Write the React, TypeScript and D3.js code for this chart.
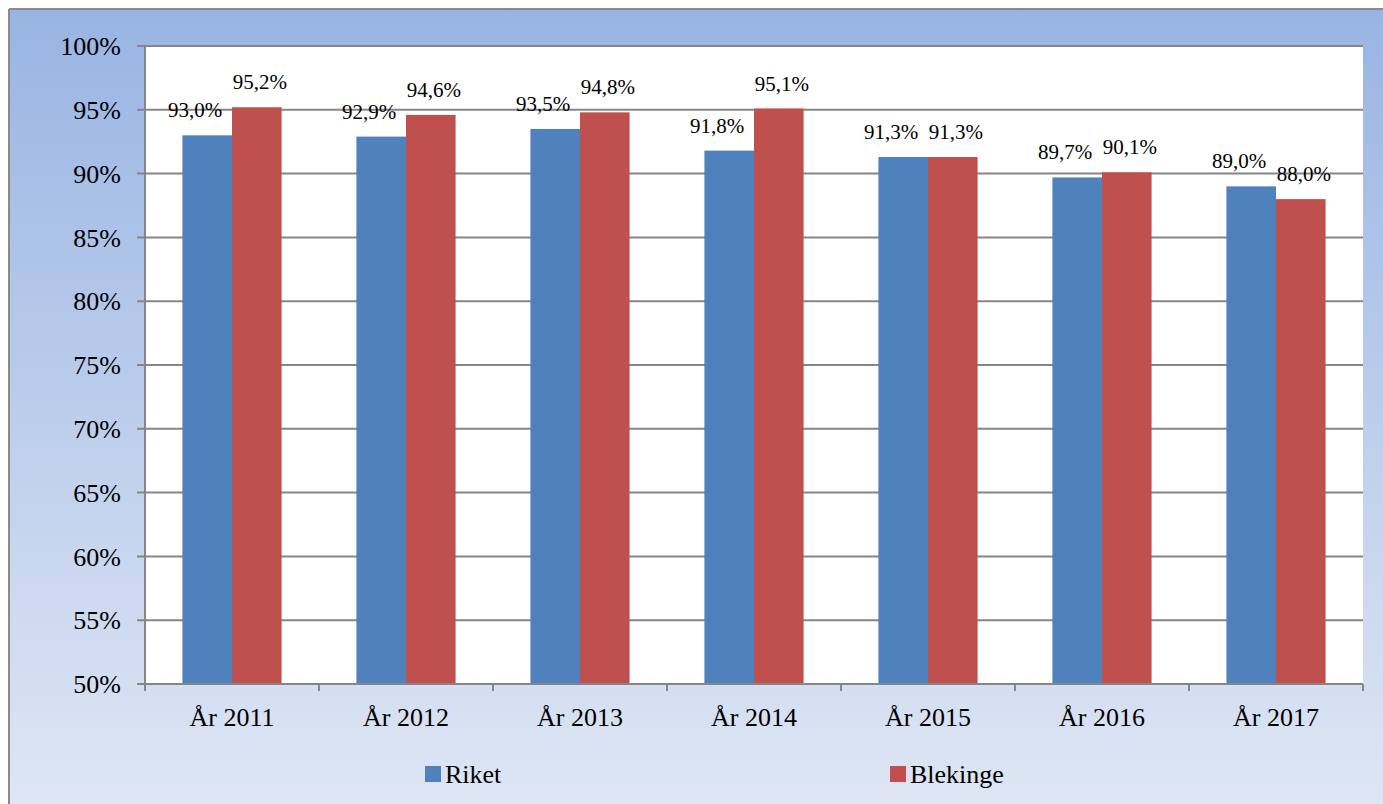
import React from "react";
import * as d3 from "d3";

const categories = ["År 2011", "År 2012", "År 2013", "År 2014", "År 2015", "År 2016", "År 2017"];
const riket = [93.0, 92.9, 93.5, 91.8, 91.3, 89.7, 89.0];
const blekinge = [95.2, 94.6, 94.8, 95.1, 91.3, 90.1, 88.0];
const seriesNames = ["Riket", "Blekinge"];
const yTicks = [50, 55, 60, 65, 70, 75, 80, 85, 90, 95, 100];

const W = 1383;
const H = 804;
const plot = { left: 145, right: 1363, top: 46, bottom: 684 };
const colors = ["#4F81BD", "#C0504D"];
const FF = "'Liberation Serif', Tinos, 'Times New Roman', Times, FreeSerif";

const fmt = (v: number) => v.toFixed(1).replace(".", ",") + "%";

export default function App() {
  const x = d3.scaleBand<string>().domain(categories).range([plot.left, plot.right]).paddingInner(0.43).paddingOuter(0.215);
  const band = d3.scaleBand<string>().domain(categories).range([plot.left, plot.right]);
  const y = d3.scaleLinear().domain([50, 100]).range([plot.bottom, plot.top]);
  const bw = x.bandwidth() / 2;
  const series = [riket, blekinge];
  const labelDx = [-12, 3];

  return (
    <svg width={W} height={H} style={{ display: "block", position: "absolute", left: 0, top: 0 }}>
      <defs>
        <linearGradient id="bg" x1="0" y1="0" x2="0" y2="1">
          <stop offset="0" stopColor="#99B4E3" />
          <stop offset="1" stopColor="#DEE6F4" />
        </linearGradient>
      </defs>
      <rect x={0} y={0} width={W} height={H} fill="#fff" />
      <rect x={9} y={9} width={W - 9} height={H - 9} fill="url(#bg)" />
      <line x1={9} x2={W} y1={9} y2={9} stroke="#8a8a8a" strokeWidth={2} />
      <line x1={9} x2={9} y1={9} y2={H} stroke="#8a8a8a" strokeWidth={2} />
      <rect x={plot.left} y={plot.top} width={plot.right - plot.left} height={plot.bottom - plot.top} fill="#fff" />
      <g fontFamily={FF} fill="#000">
        {yTicks.map((t) => (
          <g key={t}>
            <line x1={plot.left - 8} x2={plot.right} y1={y(t)} y2={y(t)} stroke="#868686" strokeWidth={2} />
            <text fontFamily={FF} x={plot.left - 24} y={y(t)} dy="0.35em" textAnchor="end" fontSize={26}>
              {t}%
            </text>
          </g>
        ))}
        {series.map((vals, si) =>
          vals.map((v, i) => {
            const bx = (x(categories[i]) as number) + si * bw;
            return (
              <g key={`${si}-${i}`}>
                <rect x={bx} y={y(v)} width={bw} height={plot.bottom - y(v)} fill={colors[si]} />
                <text fontFamily={FF} x={bx + bw / 2 + labelDx[si]} y={y(v) - 18} textAnchor="middle" fontSize={21}>
                  {fmt(v)}
                </text>
              </g>
            );
          })
        )}
        <line x1={plot.left} x2={plot.left} y1={plot.top} y2={plot.bottom} stroke="#868686" strokeWidth={2} />
        <line x1={plot.left} x2={plot.right} y1={plot.bottom} y2={plot.bottom} stroke="#868686" strokeWidth={2} />
        {[...categories.map((c) => band(c) as number), plot.right].map((bx, i) => (
          <line key={i} x1={bx} x2={bx} y1={plot.bottom} y2={plot.bottom + 7} stroke="#868686" strokeWidth={2} />
        ))}
        {categories.map((c) => (
          <text fontFamily={FF} key={c} x={(band(c) as number) + band.bandwidth() / 2} y={726} textAnchor="middle" fontSize={26}>
            {c}
          </text>
        ))}
        {seriesNames.map((n, i) => {
          const lx = [425, 890][i];
          return (
            <g key={n}>
              <rect x={lx} y={766} width={16} height={16} fill={colors[i]} />
              <text fontFamily={FF} x={lx + 20} y={783} fontSize={26}>
                {n}
              </text>
            </g>
          );
        })}
      </g>
    </svg>
  );
}
